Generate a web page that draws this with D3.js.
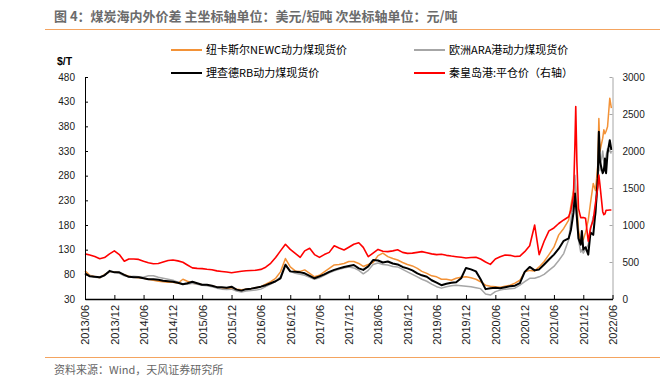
<!DOCTYPE html>
<html>
<head>
<meta charset="utf-8">
<script src="https://cdn.jsdelivr.net/npm/d3@7"></script>
<style>
	body { margin: 0; background: #fff; }
	text { font-family: "Liberation Sans", "Noto Sans CJK SC", sans-serif; }
	.cjk { font-family: "Noto Sans CJK SC", "Liberation Sans", sans-serif; }
</style>
</head>
<body>
<div id="chart"></div>
<script>
// monthly points 2013/06 .. 2021/08, then denser points up to 2022/05
const lateDates = ["2021-09-01", "2021-09-15", "2021-10-01", "2021-10-10", "2021-10-15", "2021-10-22",
	"2021-11-01", "2021-11-15", "2021-11-22", "2021-12-01", "2021-12-15", "2022-01-01", "2022-01-15",
	"2022-02-01", "2022-02-15", "2022-03-01", "2022-03-08", "2022-03-15", "2022-04-01", "2022-04-08",
	"2022-04-15", "2022-04-22", "2022-05-01", "2022-05-15", "2022-05-25"];

// 纽卡斯尔NEWC (left axis, $/t)
const newc = [87, 78, 75, 73, 80, 85, 85, 83, 79, 76,
	74, 73, 72, 70, 68, 66, 65, 64, 64, 62,
	70, 66, 62, 61, 59, 58, 57, 54, 53, 52,
	51, 50, 49, 50, 51, 53, 55, 60, 65, 72,
	85, 112, 95, 87, 86, 89, 82, 75, 78, 85,
	92, 99, 100, 102, 106, 106, 102, 96, 100, 104,
	118, 123, 116, 112, 109, 104, 100, 97, 92, 86,
	82, 77, 75, 70, 70, 68, 72, 74, 75, 73,
	70, 65, 58, 56, 55, 54, 56, 58, 62, 68,
	85, 88, 87, 95, 106, 120, 135, 160, 173,
	190, 220, 250, 271, 255, 227, 170, 143, 155, 150, 165, 190, 225,
	264, 250, 300, 396, 330, 356, 373, 365, 370, 379, 437, 417];

// 欧洲ARA (left axis)
const ara = [80, 77, 74, 73, 79, 85, 84, 82, 77, 75,
	76, 75, 74, 77, 77, 74, 72, 70, 68, 64,
	60, 60, 62, 60, 58, 57, 55, 52, 50, 49,
	50, 46, 44, 46, 47, 48, 50, 55, 60, 66,
	75, 101, 86, 82, 80, 78, 74, 70, 73, 78,
	83, 87, 90, 93, 95, 93, 88, 81, 88, 100,
	103, 100, 99, 96, 95, 90, 85, 80, 75, 70,
	66, 60, 55, 52, 55, 57, 58, 57, 56, 55,
	53, 51, 40, 38, 45, 48, 50, 51, 52, 58,
	65, 72, 72, 75, 80, 88, 96, 108, 122,
	150, 190, 240, 281, 250, 190, 150, 125, 130, 123, 130, 140, 170,
	197, 200, 260, 346, 290, 330, 310, 300, 320, 335, 330, 325];

// 理查德RB (left axis)
const rb = [82, 76, 75, 74, 78, 87, 84, 84, 79, 75,
	74, 74, 72, 70, 70, 69, 67, 66, 65, 63,
	60, 62, 65, 62, 59, 59, 57, 54, 54, 53,
	55, 49, 47, 50, 51, 53, 55, 58, 62, 66,
	72, 99, 86, 85, 84, 82, 77, 72, 76, 80,
	85, 89, 92, 95, 97, 99, 92, 89, 96, 109,
	108, 104, 106, 102, 100, 95, 92, 88, 82, 78,
	75, 68, 63, 58, 61, 63, 64, 72, 93, 90,
	86, 70, 50, 52, 53, 52, 54, 56, 57, 62,
	85, 95, 88, 90, 100, 110, 120, 132, 148,
	153, 170, 205, 244, 225, 195, 153, 140, 168, 130, 135, 120, 165,
	160, 207, 275, 369, 308, 285, 290, 315, 285, 325, 352, 332];

// 秦皇岛港:平仓价 (right axis, 元/吨)
const qhd = [610, 595, 575, 545, 560, 610, 650, 600, 510, 540,
	540, 535, 510, 490, 477, 480, 500, 520, 527, 515,
	496, 460, 420, 414, 410, 401, 395, 380, 372, 365,
	355, 365, 375, 382, 385, 388, 400, 430, 482, 560,
	650, 739, 670, 617, 563, 650, 685, 600, 563, 600,
	630, 720, 690, 662, 700, 740, 761, 698, 572, 620,
	670, 645, 640, 650, 665, 630, 617, 620, 630, 640,
	626, 610, 600, 604, 590, 580, 572, 565, 555, 560,
	565, 540, 500, 468, 540, 570, 594, 590, 575, 580,
	640, 720, 1000, 600, 780, 920, 960, 1020, 1068,
	1112, 1203, 1405, 2100, 2600, 1856, 1225, 1099, 1100, 1100, 1090, 780, 960,
	1068, 1300, 1500, 1675, 1540, 1180, 1140, 1150, 1200, 1200, 1203, 1203];

const leftTicks = [30, 80, 130, 180, 230, 280, 330, 380, 430, 480];
const rightTicks = [0, 500, 1000, 1500, 2000, 2500, 3000];

const width = 668;
const height = 379;
const plot = { left: 85, right: 612.5, top: 77, bottom: 299 };

const parse = d3.timeParse("%Y-%m-%d");
const start = parse("2013-06-01");
const end = parse("2022-06-01");
const dates = d3.timeMonth.range(start, parse("2021-09-01")).concat(lateDates.map(parse));
const xTicks = d3.range(0, 19).map((i) => d3.timeMonth.offset(start, i * 6));

const x = d3.scaleTime().domain([start, end]).range([plot.left, plot.right]);
const yL = d3.scaleLinear().domain([30, 480]).range([plot.bottom, plot.top]);
const yR = d3.scaleLinear().domain([0, 3000]).range([plot.bottom, plot.top]);

const svg = d3.select("#chart")
	.append("svg")
		.attr("width", width)
		.attr("height", height);

svg.append("rect").attr("width", width).attr("height", height).attr("fill", "#fff");

// header
svg.append("text")
	.attr("class", "cjk")
	.attr("x", 54)
	.attr("y", 21)
	.attr("font-size", 13)
	.attr("font-weight", "bold")
	.attr("fill", "#6b6b6b")
	.text("图 4：煤炭海内外价差 主坐标轴单位：美元/短吨 次坐标轴单位：元/吨");

svg.append("line")
	.attr("x1", 45).attr("x2", 660)
	.attr("y1", 29.5).attr("y2", 29.5)
	.attr("stroke", "#F4A460").attr("stroke-width", 1.2);

// footer
svg.append("line")
	.attr("x1", 45).attr("x2", 660)
	.attr("y1", 357.5).attr("y2", 357.5)
	.attr("stroke", "#F4A460").attr("stroke-width", 1.2);

svg.append("text")
	.attr("class", "cjk")
	.attr("x", 54)
	.attr("y", 374)
	.attr("font-size", 11)
	.attr("fill", "#666")
	.text("资料来源：Wind，天风证券研究所");

// legend
const series = [
	{ name: "纽卡斯尔NEWC动力煤现货价", values: newc, color: "#F39237", width: 1.5, scale: yL, lx: 171, ly: 50 },
	{ name: "欧洲ARA港动力煤现货价", values: ara, color: "#A6A6A6", width: 1.5, scale: yL, lx: 414, ly: 50 },
	{ name: "理查德RB动力煤现货价", values: rb, color: "#000000", width: 2, scale: yL, lx: 171, ly: 73 },
	{ name: "秦皇岛港:平仓价（右轴）", values: qhd, color: "#FF0000", width: 1.6, scale: yR, lx: 414, ly: 73 }
];

const legend = svg.append("g").attr("class", "legend");
const items = legend.selectAll("g")
		.data(series).enter()
	.append("g")
		.attr("transform", (d) => `translate(${d.lx},${d.ly})`);

items.append("line")
	.attr("x1", 0).attr("x2", 31)
	.attr("stroke", (d) => d.color)
	.attr("stroke-width", 2);

items.append("text")
	.attr("class", "cjk")
	.attr("x", 35)
	.attr("dy", "0.35em")
	.attr("font-size", 11)
	.attr("fill", "#000")
	.text((d) => d.name);

svg.append("text")
	.attr("x", 57)
	.attr("y", 65)
	.attr("font-size", 10.5)
	.attr("font-weight", "bold")
	.attr("fill", "#000")
	.text("$/T");

// lines
const lines = svg.append("g").attr("class", "lines");
series.forEach((s) => {
	const line = d3.line()
		.x((d, i) => x(dates[i]))
		.y((d) => s.scale(d));
	lines.append("path")
		.datum(s.values)
		.attr("fill", "none")
		.attr("stroke", s.color)
		.attr("stroke-width", s.width)
		.attr("stroke-linejoin", "round")
		.attr("d", line);
});

// axes
const axisLeft = svg.append("g")
	.attr("transform", `translate(${plot.left},0)`)
	.call(d3.axisLeft(yL).tickValues(leftTicks).tickSize(-3).tickSizeOuter(0).tickPadding(10));
axisLeft.selectAll("text").attr("font-size", 10).attr("fill", "#1a1a1a");
axisLeft.select(".domain").attr("stroke", "#000");

const axisRight = svg.append("g")
	.attr("transform", `translate(${plot.right},0)`)
	.call(d3.axisRight(yR).tickValues(rightTicks).tickFormat(d3.format("d"))
		.tickSize(-3).tickSizeOuter(0).tickPadding(10));
axisRight.selectAll("text").attr("font-size", 10).attr("fill", "#1a1a1a");
axisRight.selectAll("line, .domain").attr("stroke", "#A6A6A6");

const axisBottom = svg.append("g")
	.attr("transform", `translate(0,${plot.bottom})`)
	.call(d3.axisBottom(x).tickValues(xTicks).tickSize(-4).tickSizeOuter(0).tickFormat(d3.timeFormat("%Y/%m")));
axisBottom.select(".domain").attr("stroke", "#000").attr("stroke-width", 1.3);
axisBottom.selectAll("text")
	.attr("font-size", 11)
	.attr("fill", "#1a1a1a")
	.attr("text-anchor", "end")
	.attr("transform", "rotate(-90)")
	.attr("x", -6)
	.attr("y", 0)
	.attr("dy", "0.35em");
</script>
</body>
</html>
